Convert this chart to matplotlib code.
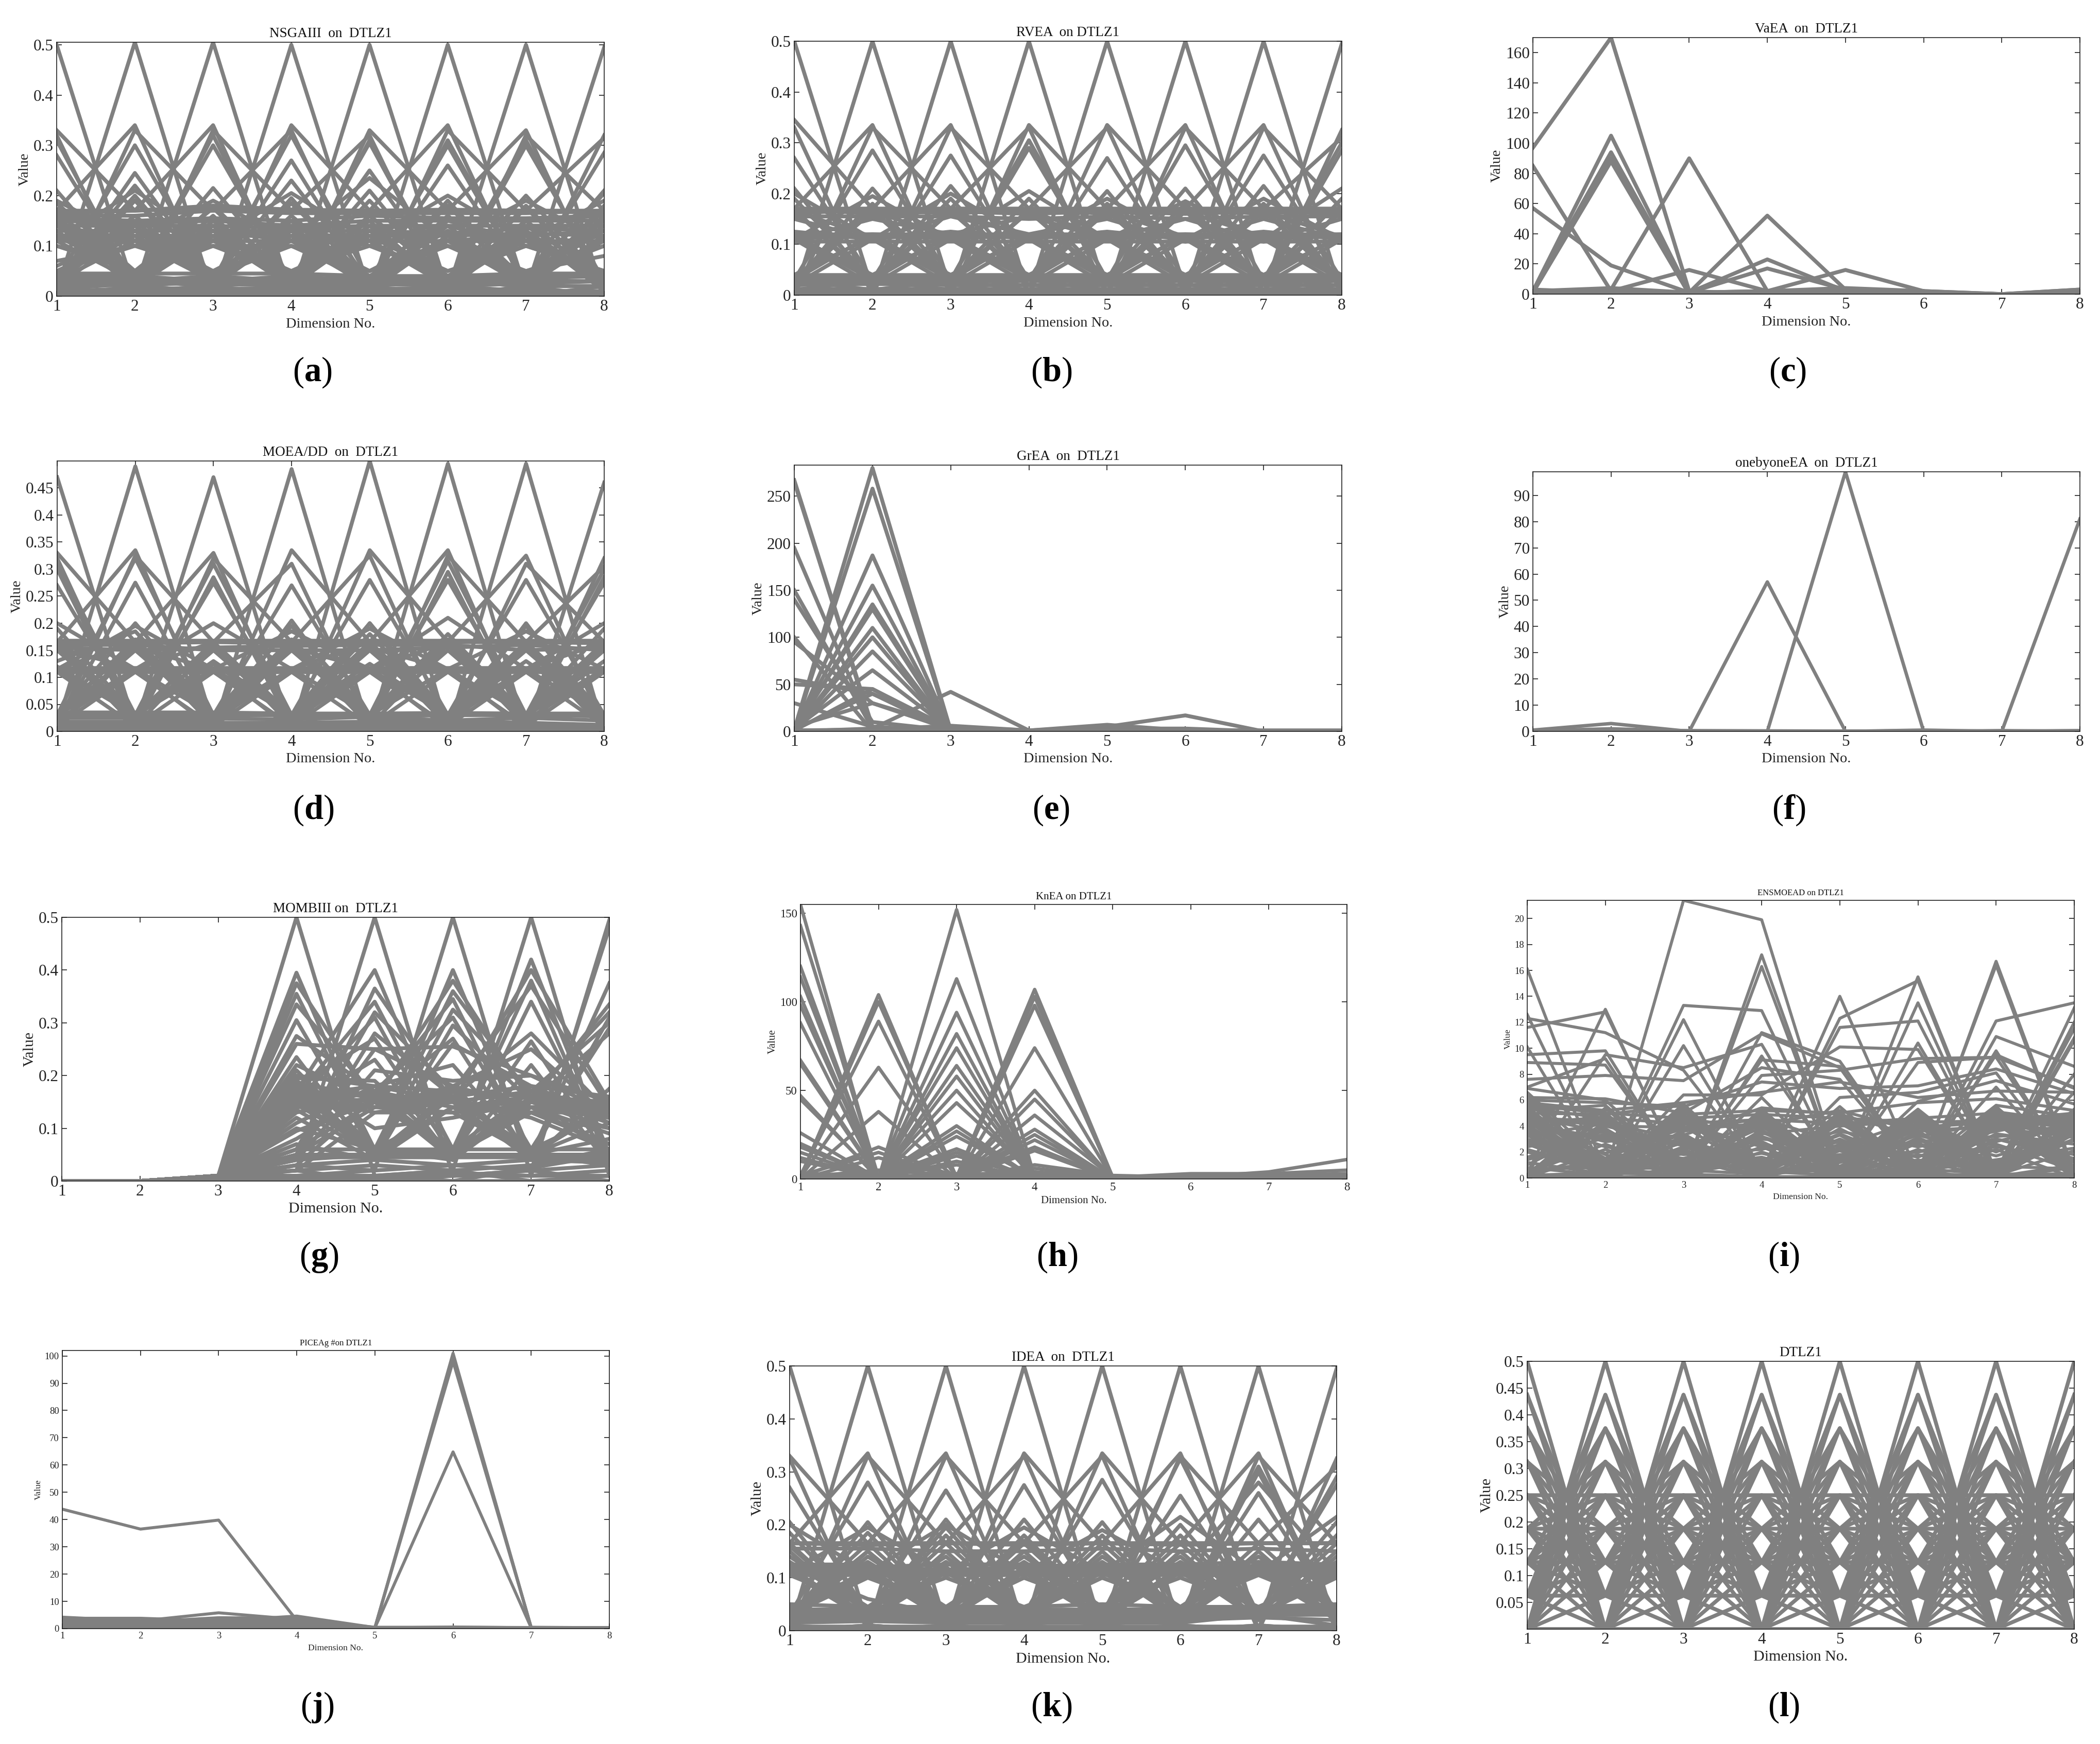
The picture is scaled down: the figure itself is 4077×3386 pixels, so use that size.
import matplotlib
matplotlib.use('Agg')
import matplotlib.pyplot as plt

#############################################################################################################
# Datos #####################################################################################################
#############################################################################################################
dims = [1, 2, 3, 4, 5, 6, 7, 8]

nsga3 = [
 [.5,.01,.02,0,.01,0,.02,0],[.01,.505,0,.01,.02,0,0,.01],[0,.01,.505,0,0,.02,.01,0],[.02,0,0,.5,.01,0,0,.02],
 [0,.02,.01,0,.5,.01,0,0],[.01,0,0,.02,0,.5,.01,0],[0,.01,.02,0,0,.01,.5,0],[.02,0,0,.01,0,0,.01,.495],
 [.33,.17,.34,0,.33,.17,.33,0],[.17,.34,0,.34,.17,.34,.01,.32],[.32,0,.33,.17,.32,0,.32,.17],[0,.33,.17,.33,0,.33,.17,.315],
 [.31,.02,.32,.01,.31,.03,.31,.02],[.03,.30,.03,.32,.03,.30,.03,.285],[.28,.03,.30,.03,.305,.02,.30,.03],[.02,.245,.03,.27,.02,.31,.03,.21],
 [.21,.03,.215,.03,.25,.03,.2,.03],[.03,.22,.03,.23,.03,.26,.03,.205],[.19,.11,.19,.11,.235,.11,.19,.11],[.11,.21,.11,.205,.11,.2,.11,.19],
 [.185,.05,.175,.03,.21,.02,.18,.02],[.03,.2,.02,.195,.02,.19,.02,.18],[.17,.03,.18,.03,.19,.03,.175,.03],[.02,.19,.03,.185,.03,.18,.03,.17],
 [.17,.17,.18,.172,.17,.17,.17,.17],[.165,.17,.175,.17,.17,.172,.17,.165],[.16,.16,.17,.165,.165,.165,.165,.17],[.155,.15,.155,.15,.16,.155,.155,.16],
 [.15,.145,.15,.14,.15,.15,.15,.15],[.14,.14,.14,.135,.14,.14,.14,.14],[.13,.13,.13,.13,.13,.125,.135,.13],[.12,.12,.12,.12,.12,.12,.125,.12],[.11,.11,.11,.11,.11,.11,.11,.11],
 [.16,.02,.15,.03,.14,.02,.15,.03],[.03,.15,.02,.16,.03,.14,.02,.16],[.15,.03,.16,.01,.16,.04,.13,.01],[.04,.16,.03,.14,.02,.16,.03,.14],
 [.14,.04,.13,.04,.15,.01,.14,.04],[.02,.13,.04,.15,.04,.13,.04,.13],[.13,.02,.12,.02,.13,.03,.12,.02],[.03,.14,.02,.13,.01,.12,.03,.15],
 [.12,.04,.14,.03,.12,.04,.11,.04],[.04,.12,.03,.12,.03,.11,.02,.12],[.11,.03,.11,.04,.11,.02,.13,.03],[.03,.11,.04,.11,.02,.12,.04,.11],
 [.10,.05,.10,.05,.10,.04,.10,.05],[.05,.10,.05,.10,.04,.10,.05,.10],[.12,.11,.03,.03,.13,.12,.02,.02],[.02,.03,.12,.13,.03,.02,.12,.13],
 [.13,.02,.03,.12,.11,.03,.02,.12],[.11,.12,.12,.02,.02,.11,.12,.03],[.16,.13,.04,.15,.03,.15,.11,.04],[.04,.15,.13,.03,.16,.03,.15,.16],
 [.15,.05,.13,.11,.05,.13,.03,.11],[.12,.04,.10,.04,.12,.05,.10,.05],[.05,.12,.04,.10,.05,.10,.04,.10],[.145,.10,.10,.10,.03,.03,.14,.14],
 [.155,.03,.03,.14,.10,.14,.10,.12],[.07,.10,.14,.03,.14,.10,.03,.05],[.06,.13,.05,.13,.05,.11,.05,.08],[.10,.05,.12,.05,.12,.05,.10,.05],
 [.05,.03,.04,.03,.04,.03,.04,.04],[.04,.04,.03,.04,.03,.04,.03,.03],[.045,.045,.045,.045,.04,.04,.045,.045],[.035,.035,.035,.035,.035,.035,.04,.04],
 [.03,.03,.03,.035,.03,.03,.03,.03],[.025,.02,.03,.025,.03,.025,.035,.04],[.02,.03,.02,.03,.02,.03,.02,.02],[.015,.025,.025,.02,.025,.02,.025,.03],
 [.01,.015,.015,.015,.015,.015,.01,.01],[.005,.01,.01,.01,.005,.01,.015,.005],[0,.005,.005,.005,.01,.005,.005,0],[0,0,.005,0,0,.005,0,.005],
]
rvea = [
 [.5,.01,0,0,.01,0,.01,0],[0,.5,.01,0,0,.01,0,0],[.01,0,.5,0,.01,0,0,.01],[0,.01,0,.5,0,0,.01,0],
 [0,0,.01,0,.5,.01,0,0],[.01,0,0,.01,0,.5,0,0],[0,.01,0,0,.01,0,.5,0],[0,0,.01,0,0,.01,0,.495],
 [.345,.17,.335,0,.335,.17,.335,0],[.17,.335,0,.335,.17,.335,0,.325],[.33,0,.33,.17,.33,0,.33,.17],[0,.33,.17,.33,0,.33,.17,.31],
 [.27,.03,.275,.03,.27,.03,.275,.03],[.03,.285,.03,.305,.03,.295,.03,.30],[.21,.02,.215,.03,.205,.02,.215,.02],[.02,.21,.03,.29,.03,.21,.02,.285],
 [.2,.11,.2,.11,.19,.11,.19,.11],[.11,.195,.11,.205,.11,.185,.11,.21],[.19,.03,.19,.03,.18,.03,.18,.03],[.03,.18,.03,.19,.03,.18,.03,.19],
 [.165,.165,.165,.165,.165,.165,.165,.165],[.16,.17,.16,.17,.16,.17,.16,.17],[.17,.16,.165,.16,.165,.16,.165,.16],[.17,.17,.17,.17,.17,.17,.17,.17],
 [.155,.155,.155,.15,.155,.15,.155,.155],[.12,.12,.12,.12,.12,.12,.12,.12],[.115,.115,.115,.115,.115,.115,.115,.115],
 [.11,.12,.11,.12,.11,.12,.11,.12],[.125,.11,.125,.11,.125,.11,.125,.11],[.105,.105,.105,.105,.105,.105,.105,.105],
 [.165,.03,.165,.03,.12,.03,.165,.03],[.03,.165,.03,.12,.03,.165,.03,.12],[.12,.03,.12,.03,.165,.03,.12,.03],[.03,.12,.03,.165,.03,.12,.03,.165],
 [.17,.02,.11,.02,.17,.02,.11,.02],[.02,.17,.02,.11,.02,.17,.02,.11],[.11,.02,.17,.02,.11,.02,.17,.02],[.02,.11,.02,.17,.02,.11,.02,.17],
 [.115,.04,.115,.04,.115,.04,.115,.04],[.04,.115,.04,.115,.04,.115,.04,.115],[.165,.115,.03,.165,.115,.03,.165,.115],[.03,.165,.115,.03,.165,.115,.03,.165],
 [.115,.03,.165,.115,.03,.165,.115,.03],[.15,.11,.155,.12,.15,.105,.15,.11],[.11,.15,.12,.155,.11,.15,.105,.15],
 [.035,.035,.035,.035,.035,.035,.035,.035],[.03,.03,.03,.03,.03,.03,.03,.03],[.04,.04,.04,.04,.04,.04,.04,.04],[.025,.03,.025,.03,.025,.03,.025,.03],
 [.02,.022,.02,.02,.02,.02,.02,.02],[.012,.012,.012,.012,.012,.012,.012,.012],[.005,.008,.005,.008,.005,.008,.005,.008],[0,.002,0,.002,0,.002,0,.002],
 [.03,.01,.03,.01,.03,.01,.03,.01],[.01,.03,.01,.03,.01,.03,.01,.03],
]
vaea = [
 [97,170,2,0,0,0,0,0],[85,2,1,0,0,0,0,1],[57,19,1,0,0,0,0,0],[2,105,1,0,0,0,0,0],[2,94,1,0,1,0,0,0],[1,90,0,0,0,0,0,1],
 [1,88,0,0,0,0,0,0],[0,3,90,2,0,0,0,0],[1,2,16,2,2,1,0,3],[0,1,1,52,3,1,0,1],[0,1,1,23,2,1,0,0],[1,0,1,17,3,0,0,0],
 [0,0,1,2,16,2,0,0],[2,4,1,2,4,2,0,3],[1,2,0,1,1,1,0,2],[3,1,1,0,0,0,0,1],
]
moeadd = [
 [.47,.01,0,.01,0,0,.01,0],[.01,.49,.01,0,0,.01,0,.01],[0,.01,.47,0,.01,0,0,0],[.01,0,0,.485,0,.01,0,.01],
 [0,.01,0,0,.5,0,.01,0],[.01,0,.01,.01,0,.495,0,0],[0,0,0,.01,.01,0,.495,0],[.01,.01,.01,0,0,0,0,.46],
 [.33,.165,.33,.01,.335,.165,.325,.01],[.165,.335,.01,.335,.165,.335,.01,.32],[.32,.01,.32,.165,.325,.01,.31,.165],[.01,.325,.165,.31,.01,.325,.165,.305],
 [.31,.03,.31,.03,.28,.03,.28,.03],[.03,.32,.03,.27,.03,.315,.03,.30],[.30,.01,.285,.01,.2,.01,.2,.01],[.01,.275,.01,.205,.01,.295,.01,.285],
 [.27,.03,.275,.03,.2,.03,.195,.03],[.03,.2,.03,.195,.03,.28,.03,.275],[.2,.115,.2,.115,.19,.115,.185,.115],[.115,.195,.115,.185,.115,.21,.115,.2],
 [.19,.03,.125,.03,.18,.03,.16,.03],[.13,.185,.03,.16,.03,.18,.03,.19],[.12,.03,.13,.03,.125,.03,.13,.03],[.03,.17,.03,.17,.03,.17,.03,.13],
 [.168,.168,.168,.168,.168,.168,.168,.168],[.165,.163,.165,.163,.165,.165,.165,.163],[.155,.15,.155,.158,.16,.16,.15,.155],[.16,.16,.15,.15,.15,.155,.16,.15],
 [.117,.117,.117,.117,.117,.117,.117,.117],[.115,.112,.115,.112,.115,.112,.115,.112],[.11,.11,.11,.11,.11,.11,.11,.11],
 [.165,.03,.165,.03,.115,.03,.165,.03],[.03,.165,.03,.115,.03,.165,.03,.115],[.115,.03,.115,.03,.165,.03,.115,.03],[.03,.115,.03,.165,.03,.115,.03,.165],
 [.16,.01,.11,.01,.16,.01,.11,.01],[.01,.16,.01,.11,.01,.16,.01,.11],[.11,.01,.16,.01,.11,.01,.16,.01],[.01,.11,.01,.16,.01,.11,.01,.16],
 [.15,.025,.15,.025,.15,.025,.15,.025],[.025,.15,.025,.15,.025,.15,.025,.15],[.165,.02,.02,.165,.02,.02,.165,.02],[.02,.115,.165,.02,.115,.165,.02,.115],
 [.115,.165,.02,.115,.165,.02,.115,.165],[.155,.115,.005,.155,.115,.005,.155,.005],[.005,.155,.115,.005,.155,.115,.005,.155],
 [.035,.035,.035,.033,.033,.034,.033,.033],[.03,.03,.03,.03,.028,.03,.03,.028],[.025,.025,.024,.022,.027,.02,.025,.02],
 [.018,.018,.016,.016,.018,.018,.016,.012],[.012,.012,.011,.012,.012,.012,.012,.01],[.008,.008,.008,.008,.008,.008,.008,.008],[.004,.005,.004,.005,.004,.005,.004,.005],[.001,.001,.001,.001,.001,.001,.001,.001],
]
grea = [
 [267,5,0,0,0,0,0,0],[265,2,1,0,0,0,0,0],[195,1,0,0,0,0,0,0],[150,3,0,0,0,0,0,0],[140,10,1,0,0,0,0,0],[100,0,0,0,0,0,0,0],[95,30,2,0,0,0,0,0],
 [55,40,2,0,1,0,0,0],[50,45,3,0,0,0,0,0],[30,5,0,0,0,0,0,0],[2,280,1,0,0,0,0,0],[1,258,1,0,0,0,0,0],[0,187,0,0,0,0,0,0],[1,155,0,0,0,0,0,0],
 [0,135,2,0,0,0,0,0],[2,130,1,0,0,0,0,0],[0,110,0,0,0,0,0,0],[1,100,0,0,0,0,0,0],[0,85,1,0,0,0,0,0],[3,65,2,0,0,0,0,0],[1,45,1,0,0,0,0,0],
 [2,40,0,0,0,0,0,0],[5,30,5,1,0,0,0,0],[0,3,42,1,0,0,0,0],[1,2,6,1,7,1,0,0],[0,1,2,1,5,17,0,0],[0,0,1,0,3,3,0,0],[1,1,1,1,1,1,1,1],
]
onebyone = [
 [.5,3,0,0,0,.3,0,.2],[.2,1,.1,0,0,0,.3,0],[0,0,0,57,0,.5,0,0],[0,0,0,0,99,0,0,0],[0,0,0,0,0,0,0,81],[.4,.5,.3,.2,.1,.2,.1,.3],
]
mombi3 = [
 [0,0,.01,.5,.01,.02,0,.01],[0,0,.01,.02,.5,.01,.02,0],[0,0,.01,.01,.02,.5,.01,.02],[0,0,.01,0,.01,.02,.5,.01],[0,0,.01,.02,0,.01,.01,.495],[0,0,.01,.01,0,.01,.02,.48],
 [0,0,.01,.395,.05,.40,.05,.375],[0,0,.01,.375,.15,.38,.15,.335],[0,0,.01,.355,.06,.36,.16,.32],[0,0,.01,.335,.16,.345,.05,.31],[0,0,.01,.305,.05,.325,.17,.30],
 [0,0,.01,.275,.17,.31,.06,.29],[0,0,.01,.26,.25,.255,.2,.15],[0,0,.01,.235,.04,.295,.15,.28],[0,0,.01,.22,.15,.27,.04,.175],[0,0,.01,.21,.06,.26,.18,.16],[0,0,.01,.2,.18,.22,.05,.15],
 [0,0,.01,.17,.40,.05,.42,.05],[0,0,.01,.05,.365,.15,.40,.15],[0,0,.01,.16,.34,.06,.38,.04],[0,0,.01,.06,.32,.17,.37,.14],[0,0,.01,.15,.31,.04,.34,.05],
 [0,0,.01,.04,.28,.16,.28,.13],[0,0,.01,.18,.27,.05,.265,.04],[0,0,.01,.05,.25,.18,.25,.12],[0,0,.01,.14,.23,.04,.22,.03],[0,0,.01,.04,.21,.19,.2,.13],
 [0,0,.01,.195,.19,.05,.16,.14],[0,0,.01,.19,.05,.17,.05,.14],[0,0,.01,.185,.16,.15,.17,.13],[0,0,.01,.18,.05,.05,.16,.12],[0,0,.01,.175,.14,.16,.05,.11],
 [0,0,.01,.17,.05,.14,.15,.10],[0,0,.01,.165,.15,.05,.14,.09],[0,0,.01,.16,.13,.13,.05,.08],[0,0,.01,.155,.05,.06,.13,.07],[0,0,.01,.15,.14,.15,.12,.06],
 [0,0,.01,.145,.06,.14,.05,.05],[0,0,.01,.14,.17,.05,.14,.12],[0,0,.01,.135,.05,.16,.06,.13],[0,0,.01,.13,.16,.06,.17,.14],[0,0,.01,.12,.04,.14,.16,.05],
 [0,0,.01,.11,.18,.15,.04,.04],[0,0,.01,.10,.06,.04,.18,.11],[0,0,.01,.095,.15,.17,.05,.03],[0,0,.01,.08,.17,.04,.15,.12],[0,0,.01,.07,.04,.18,.04,.05],
 [0,0,.01,.06,.15,.05,.13,.1],[0,0,.01,.05,.14,.13,.14,.06],[0,0,.01,.04,.05,.16,.05,.14],[0,0,.01,.03,.16,.04,.16,.15],[0,0,.01,.02,.13,.15,.13,.07],
 [0,0,.01,.17,.06,.05,.05,.05],[0,0,.01,.05,.05,.05,.05,.04],[0,0,.01,.06,.06,.06,.06,.06],[0,0,.01,.045,.045,.045,.045,.045],[0,0,.005,.03,.04,.03,.04,.035],
 [0,0,.005,.02,.03,.02,.03,.06],[0,0,.002,.03,.02,.03,.02,.03],[0,0,.002,.01,.01,0,.025,.05],[0,0,.002,.005,.005,.015,.01,.01],[0,0,.002,0,0,0,0,0],
 [0,0,.01,.15,.17,.14,.13,.13],[0,0,.01,.19,.1,.12,.15,.14],[0,0,.01,.14,.14,.18,.14,.15],[0,0,.01,.17,.16,.16,.18,.12],[0,0,.01,.16,.18,.17,.16,.11],
]
knea = [
 [155,0,1,0,1,0,0,0],[143,1,0,2,0,0,0,0],[120,0,2,0,1,0,0,0],[114,1,1,0,0,0,0,0],[103,0,0,1,0,0,0,0],[98,1,1,0,0,0,1,0],[88,0,0,2,0,0,0,0],
 [67,1,0,0,0,0,0,1],[65,0,2,0,0,0,0,0],[47,0,1,1,1,0,0,0],[45,1,0,0,0,0,0,0],[26,0,1,0,0,0,0,0],[20,0,0,1,0,0,0,0],[18,1,0,0,0,0,0,0],
 [15,0,1,0,0,0,0,0],[12,0,0,0,1,0,0,0],[10,1,0,1,0,0,0,0],[1,104,0,1,0,0,0,0],[0,100,1,0,0,0,0,0],[2,89,0,0,0,0,0,0],[1,63,1,1,0,0,0,0],
 [0,38,0,0,0,1,0,0],[1,18,1,0,0,0,0,0],[2,15,0,1,0,0,0,0],[0,12,1,0,0,0,0,0],[1,5,2,1,0,0,1,0],[0,0,152,1,0,0,0,0],[1,1,113,0,0,0,0,0],
 [0,0,94,1,1,0,0,0],[1,0,82,0,0,0,0,0],[0,1,74,0,0,0,0,0],[0,0,64,1,0,0,0,0],[1,0,58,0,0,1,0,0],[0,1,50,0,0,0,0,0],[0,0,43,2,0,0,0,0],
 [0,1,30,0,0,0,0,0],[1,0,27,0,0,0,0,0],[0,0,24,1,0,0,0,0],[0,1,17,0,0,0,0,0],[1,0,15,0,0,0,0,0],[0,0,13,1,0,0,1,0],[0,0,10,0,0,0,0,0],
 [1,1,8,0,0,0,0,0],[0,0,1,107,1,0,0,0],[1,0,0,103,0,0,0,0],[0,1,1,98,1,1,0,0],[0,0,0,74,0,0,0,0],[1,0,1,50,0,0,0,0],[0,1,0,45,0,0,0,0],
 [0,0,0,36,1,0,0,0],[1,0,1,28,0,0,0,0],[0,0,0,25,0,1,0,0],[0,1,0,22,0,0,0,0],[0,0,1,18,0,0,0,0],[1,0,0,16,0,0,0,0],[0,0,0,8,2,1,4,11],
 [0,0,1,6,1,3,3,5],[1,1,2,4,1,2,2,3],[2,1,3,3,1,1,1,2],[3,2,1,2,0,1,1,1],
]
ensmoead = [
 [.1,.3,21.4,19.9,.5,.2,.3,.2],[16.1,.4,.2,17.2,.3,.1,16.7,.5],[.3,13,.1,16.3,.2,15.5,.4,13.1],[12.6,.2,12.2,.4,14,.3,16.4,.2],
 [11.6,12.8,.3,.1,12.3,15.2,.2,12],[12.3,11.2,8.3,.5,.2,13.5,.3,11.5],[.2,.4,13.3,12.9,.3,.2,12.1,13.5],[10.1,.1,10.2,.3,11.6,12.1,.4,10.8],
 [9.5,9.8,.2,11.2,9,.4,.1,10.6],[8.9,8.7,.4,9.1,8.6,.2,10.9,8.6],[.3,9.5,8.5,10.3,.1,10.4,.2,8],[7.6,7.9,7.5,11.1,8.5,.1,9.8,.3],
 [7,9.2,.1,9.4,.4,8.9,9.3,.4],[6.9,6,.5,7.9,8.3,9.2,9.3,7],[6.5,.3,6.4,6.4,10.1,9.9,.3,6.6],[6.2,6.1,5,8.5,7.6,.5,9.5,6.9],
 [6,5.8,5.5,7.4,6.9,7.1,8.4,6.5],[5.8,5.2,5.8,6.6,7.4,6.2,6.7,6.6],[5.5,.5,5.3,.2,6.2,6.6,8.1,.2],[5.2,5.6,.3,6.2,.2,5.9,7.5,5.7],
 [5,4.9,5.6,.4,5.5,.3,7,.1],[4.8,.2,4.9,5.2,5,5.8,6.1,5.2],[4.6,4.4,.4,5,.6,5.3,.5,4.9],[4.4,.8,4.6,.7,4.8,.9,5.6,4.7],
 [4.2,4.7,.6,4.6,.8,4.7,.7,4.5],[4,.3,4.3,1.2,4.5,.5,5.1,4.3],[3.8,1.5,4,.3,4.2,1.2,4.7,4.1],[3.5,.2,3.7,4.2,.3,4.3,1,3.9],
 [3.2,4.2,1.2,3.9,1.5,3.9,4.3,.5],[2.8,.6,3.2,.5,3.8,.8,4,3.7],[2.4,3.6,.5,3.6,.4,3.6,.4,3.5],[2,.4,2.8,.2,3.4,.2,3.8,3.2],
 [1.4,3.1,.2,3.2,.3,3.1,.6,3],[.8,.2,2.4,.6,3,.4,3.4,2.6],[.4,2.6,.4,2.8,.1,2.7,.2,2.1],[.2,.1,1.9,.1,2.6,.1,3,1.8],
 [0,2.2,.1,2.4,0,2.2,.1,1],[.1,0,1.5,0,2.1,0,2.6,.6],[4.5,1.8,0,2,.1,1.8,.1,.2],[4.3,1.2,3.4,0,1.6,.1,2.2,0],
 [4.7,.7,.8,1.6,0,1.4,0,0],[5.1,0,3,.1,1.2,3.3,1.7,3.5],[4.1,.3,4.4,1,3.3,0,4.5,1.2],[3.9,4.5,0,4.4,.8,3,0,.8],
 [3.3,0,2.2,0,4.4,1,1.2,3.3],[.6,1,0,3.4,4,4.4,0,.4],[1,4,2.6,4,0,3.5,.8,4.4],[1.6,3.4,1,3,2.4,4.5,2,4.6],
 [.05,.05,.05,.05,.05,.05,.05,.05],[.15,.1,.1,.1,.1,.1,.15,.1],[2.6,.5,2,1.1,1.8,2,3,1.5],[.3,1.4,.3,1.4,.3,.7,.3,.3],
 [4.6,.1,5.4,.2,4.9,.1,5.3,.1],[4.9,.4,5.7,0,5.1,.2,5.5,.3],[.1,5,.2,5.1,.1,5,.1,5],[.2,5.4,.1,4.8,0,4.6,0,5.3],
 [4.4,.3,4.8,.4,4.7,0,4.6,.2],[5.3,.6,5.1,.1,4.3,.4,4.9,.4],[.4,4.3,.1,4.7,.2,4.2,.3,4.7],[0,4.8,0,5.3,.1,5.2,.2,4.2],
 [6.3,.1,4.6,0,4.9,.6,4.4,0],[3.7,.2,5.5,.1,4.6,.1,4.2,.1],[.1,3.8,.3,4.3,.4,4.8,.2,3.8],[.3,3.3,.1,3.7,.2,4,0,3.4],
 [4.5,4.2,3,1,3.4,1,4.8,4.6],[4.8,3.5,2.5,1.4,2.8,1.6,4.2,4.2],[4.2,3,1.8,2.2,3.6,2.4,3.6,4.8],[4.4,2.4,1.5,3.2,1.2,2.8,3.2,3.6],
 [3.6,1.9,3.8,2.6,.9,3.8,4.6,3.8],[5,1.5,4.2,2.4,2.2,.7,4.4,5],[3,.9,4.7,3.5,1.4,2,3.8,4.4],[2.2,.5,3.6,4.6,2.7,.6,2.8,4.3],
 [5.6,5,4.6,4.9,4.6,4.3,4.4,4.4],[5.4,4.6,4.2,4.5,4.2,4.6,5,4],[4.7,4,3.9,4.1,5.2,3.6,4,4.9],[4.3,2.8,3.3,5.4,4.9,3.2,4.3,3.1],
 [6.6,1.1,2.7,.9,1.7,2.6,.4,2.9],[5.9,.6,.9,1.9,.6,.5,1.4,2.3],[.7,.8,1.3,.6,2.3,1.7,2.4,1.4],[1.2,.3,.6,.3,.7,.3,.9,.7],
]
piceag = [
 [43.8,36.5,39.8,3,.3,.2,.3,.2],[.5,.6,.4,.5,.3,101,.4,.3],[.3,.4,.3,.3,.2,100,.3,.2],[.4,.3,.5,.4,.4,98,.5,.3],[.2,.3,.3,.2,.3,64.8,.3,.2],
 [4.2,2.8,5.8,3.4,.5,.5,.4,.3],[3.8,3.8,2.8,4.6,.4,.4,.3,.4],[3.2,2.4,4,3.8,.3,.3,.4,.4],[2.6,2.2,3.2,3.4,.2,.6,.3,.3],[2,2,2.8,3,.3,.3,.2,.2],
 [1.5,1.2,2.2,2.4,.2,.2,.3,.3],[.7,1,1.4,1.6,.2,.2,.2,.2],[.3,.6,1,1,.1,.1,.1,.1],[.1,.2,.5,.5,.1,.1,.1,.1],
]
idea = [
 [.5,.01,0,.01,0,0,.01,0],[0,.5,.01,0,.01,0,0,.01],[.01,0,.5,0,0,.01,0,0],[0,.01,0,.5,0,0,.01,0],
 [0,0,.01,0,.5,0,0,.01],[.01,0,0,.01,0,.5,0,0],[0,.01,0,0,.01,0,.5,0],[0,0,.01,0,0,.01,0,.495],
 [.33,.165,.335,0,.335,.165,.335,0],[.165,.335,0,.335,.165,.335,0,.325],[.325,0,.33,.165,.33,0,.33,.165],[0,.33,.165,.33,0,.33,.165,.31],
 [.27,.03,.265,.03,.285,.03,.31,.03],[.03,.28,.03,.275,.03,.325,.03,.29],[.205,.02,.21,.03,.205,.02,.30,.02],[.02,.205,.03,.21,.03,.255,.03,.275],
 [.2,.11,.2,.11,.19,.11,.28,.11],[.11,.195,.11,.195,.11,.215,.11,.215],[.185,.03,.195,.03,.18,.03,.26,.03],[.03,.185,.03,.18,.03,.2,.03,.205],
 [.16,.03,.18,.03,.165,.03,.21,.03],[.03,.15,.03,.17,.03,.18,.03,.18],[.165,.165,.165,.165,.165,.165,.165,.165],[.165,.162,.165,.162,.165,.162,.165,.165],
 [.155,.155,.15,.15,.155,.15,.155,.15],[.125,.12,.125,.125,.12,.125,.13,.125],[.12,.12,.115,.12,.115,.12,.12,.12],[.115,.115,.115,.11,.115,.115,.115,.115],[.11,.11,.11,.11,.11,.11,.11,.11],[.105,.105,.105,.105,.105,.105,.105,.105],
 [.165,.03,.165,.03,.11,.03,.165,.03],[.03,.165,.03,.11,.03,.165,.03,.11],[.11,.03,.11,.03,.165,.03,.11,.03],[.03,.11,.03,.165,.03,.11,.03,.165],
 [.15,.02,.12,.02,.15,.02,.12,.02],[.02,.15,.02,.12,.02,.15,.02,.12],[.12,.02,.15,.02,.12,.02,.15,.02],[.02,.12,.02,.15,.02,.12,.02,.15],
 [.13,.04,.13,.04,.13,.04,.13,.04],[.04,.13,.04,.13,.04,.13,.04,.13],[.105,.045,.1,.045,.1,.045,.105,.045],[.045,.105,.045,.1,.045,.1,.045,.105],
 [.125,.125,.04,.04,.125,.125,.04,.04],[.04,.04,.125,.125,.04,.04,.125,.125],[.115,.03,.03,.115,.115,.03,.03,.115],[.03,.115,.115,.03,.03,.115,.115,.03],
 [.11,.02,.11,.04,.11,.045,.11,.02],[.045,.11,.02,.11,.02,.11,.045,.11],[.14,.045,.14,.02,.14,.045,.14,.045],[.02,.14,.045,.14,.045,.14,.02,.14],
 [.12,.06,.03,.1,.045,.03,.12,.045],[.03,.1,.045,.03,.1,.045,.03,.1],
 [.05,.045,.045,.045,.05,.045,.045,.05],[.04,.04,.04,.04,.04,.04,.045,.04],[.035,.035,.035,.035,.035,.035,.04,.035],[.03,.03,.03,.03,.03,.03,.035,.03],
 [.025,.025,.025,.025,.025,.025,.03,.03],[.02,.02,.02,.02,.02,.02,.025,.02],[.015,.018,.015,.015,.015,.015,.03,.01],[.008,.008,.008,.008,.008,.008,.008,.008],[.003,.003,.003,.003,.003,.003,.003,.003],[0,0,0,0,0,0,0,0],
]
dtlz1 = [
 [.5,0,0,0,0,0,0,0],[0,.5,0,0,0,0,0,0],[0,0,.5,0,0,0,0,0],[0,0,0,.5,0,0,0,0],[0,0,0,0,.5,0,0,0],[0,0,0,0,0,.5,0,0],[0,0,0,0,0,0,.5,0],[0,0,0,0,0,0,0,.5],
 [.4375,.0625,.4375,.0625,.4375,.0625,.4375,.0625],[.0625,.4375,.0625,.4375,.0625,.4375,.0625,.4375],[.4375,0,.4375,0,.4375,0,.4375,0],[0,.4375,0,.4375,0,.4375,0,.4375],
 [.375,.125,.375,.125,.375,.125,.375,.125],[.125,.375,.125,.375,.125,.375,.125,.375],[.375,.0625,.375,.0625,.375,.0625,.375,.0625],[.0625,.375,.0625,.375,.0625,.375,.0625,.375],[.375,0,.375,0,.375,0,.375,0],[0,.375,0,.375,0,.375,0,.375],
 [.3125,.1875,.3125,.1875,.3125,.1875,.3125,.1875],[.1875,.3125,.1875,.3125,.1875,.3125,.1875,.3125],[.3125,.125,.3125,.125,.3125,.125,.3125,.125],[.125,.3125,.125,.3125,.125,.3125,.125,.3125],
 [.3125,.0625,.3125,.0625,.3125,.0625,.3125,.0625],[.0625,.3125,.0625,.3125,.0625,.3125,.0625,.3125],[.3125,0,.3125,0,.3125,0,.3125,0],[0,.3125,0,.3125,0,.3125,0,.3125],
 [.25,.25,.25,.25,.25,.25,.25,.25],[.25,0,.25,0,.25,0,.25,0],[0,.25,0,.25,0,.25,0,.25],[.25,.1875,.25,.1875,.25,.1875,.25,.1875],[.1875,.25,.1875,.25,.1875,.25,.1875,.25],[.25,.125,.25,.125,.25,.125,.25,.125],[.125,.25,.125,.25,.125,.25,.125,.25],
 [.25,.0625,.25,.0625,.25,.0625,.25,.0625],[.0625,.25,.0625,.25,.0625,.25,.0625,.25],
 [.1875,.1875,.1875,.1875,.1875,.1875,.1875,.1875],[.1875,.125,.1875,.125,.1875,.125,.1875,.125],[.125,.1875,.125,.1875,.125,.1875,.125,.1875],[.1875,.0625,.1875,.0625,.1875,.0625,.1875,.0625],[.0625,.1875,.0625,.1875,.0625,.1875,.0625,.1875],
 [.1875,0,.1875,0,.1875,0,.1875,0],[0,.1875,0,.1875,0,.1875,0,.1875],[.125,.125,.125,.125,.125,.125,.125,.125],[.125,.0625,.125,.0625,.125,.0625,.125,.0625],[.0625,.125,.0625,.125,.0625,.125,.0625,.125],
 [.125,0,.125,0,.125,0,.125,0],[0,.125,0,.125,0,.125,0,.125],[.0625,.0625,.0625,.0625,.0625,.0625,.0625,.0625],[.0625,0,.0625,0,.0625,0,.0625,0],[0,.0625,0,.0625,0,.0625,0,.0625],[0,0,0,0,0,0,0,0],
]

titulos = ['NSGAIII  on  DTLZ1', 'RVEA  on DTLZ1', 'VaEA  on  DTLZ1', 'MOEA/DD  on  DTLZ1', 'GrEA  on  DTLZ1', 'onebyoneEA  on  DTLZ1',
           'MOMBIII on  DTLZ1', 'KnEA on DTLZ1', 'ENSMOEAD on DTLZ1', 'PICEAg #on DTLZ1', 'IDEA  on  DTLZ1', 'DTLZ1']
letras = ['a', 'b', 'c', 'd', 'e', 'f', 'g', 'h', 'i', 'j', 'k', 'l']
series = [nsga3, rvea, vaea, moeadd, grea, onebyone, mombi3, knea, ensmoead, piceag, idea, dtlz1]
ymaxs = [.505, .5, 170, .5, 283, 99, .5, 155, 21.4, 102, .5, .5]
ticks_y = [[0, .1, .2, .3, .4, .5], [0, .1, .2, .3, .4, .5], [0, 20, 40, 60, 80, 100, 120, 140, 160],
           [0, .05, .1, .15, .2, .25, .3, .35, .4, .45], [0, 50, 100, 150, 200, 250], [0, 10, 20, 30, 40, 50, 60, 70, 80, 90],
           [0, .1, .2, .3, .4, .5], [0, 50, 100, 150], [0, 2, 4, 6, 8, 10, 12, 14, 16, 18, 20],
           [0, 10, 20, 30, 40, 50, 60, 70, 80, 90, 100], [0, .1, .2, .3, .4, .5],
           [.05, .1, .15, .2, .25, .3, .35, .4, .45, .5]]

# cajas de los ejes en pixeles de la imagen: x0, x1, y arriba, y abajo
cajas = [(110, 1173, 82, 575), (1542, 2605, 80, 573), (2976, 4038, 73, 571),
         (111, 1173, 895, 1420), (1542, 2605, 903, 1420), (2976, 4038, 916, 1420),
         (120, 1183, 1781, 2293), (1554, 2615, 1756, 2289), (2965, 4027, 1748, 2287),
         (121, 1183, 2622, 3162), (1533, 2595, 2652, 3166), (2965, 4027, 2643, 3163)]
# centro de las letras (a), (b)...
letra_xy = [(606, 723), (2041, 723), (3471, 723), (608, 1573), (2041, 1573), (3473, 1573),
            (619, 2441), (2052, 2441), (3463, 2441), (616, 3315), (2041, 3315), (3463, 3315)]
tam_ticks = [7.5, 7.5, 7.5, 7.5, 7.5, 7.5, 7.5, 5.5, 4.5, 4.5, 7.5, 7.5]
tam_titulo = [6.5, 6.5, 6.5, 6.5, 6.5, 6.5, 6.5, 5, 4, 4, 6.5, 6.5]
tam_label = [6.8, 6.8, 6.8, 6.8, 6.8, 6.8, 7.2, 5, 4.2, 4.2, 7.2, 7.2]
grosores = [1.8, 1.8, 1.8, 1.8, 1.8, 1.6, 1.8, 1.6, 1.4, 1.4, 1.8, 1.8]

#############################################################################################################
# Figura ####################################################################################################
#############################################################################################################
plt.rcParams['font.family'] = ['Liberation Serif']
plt.rcParams['mathtext.fontset'] = 'custom'
plt.rcParams['mathtext.bf'] = 'Liberation Serif:bold'
plt.rcParams['mathtext.rm'] = 'Liberation Serif'

W, H = 4077, 3386
fig = plt.figure(figsize=(W / 300, H / 300), dpi=300)

for i in range(12):
    x0, x1, yt, yb = cajas[i]
    ax = fig.add_axes([x0 / W, 1 - yb / H, (x1 - x0) / W, (yb - yt) / H])
    for fila in series[i]:
        ax.plot(dims, fila, color='#808080', lw=grosores[i])
    ax.set_xlim(1, 8)
    ax.set_ylim(0, ymaxs[i])
    ax.set_xticks(dims)
    ax.set_yticks(ticks_y[i])
    ax.set_yticklabels(['%g' % t for t in ticks_y[i]])
    ax.tick_params(direction='in', top=True, right=True, length=2.5, width=.4, labelsize=tam_ticks[i], pad=1.5, colors='#222222')
    for s in ax.spines.values():
        s.set_linewidth(.4)
        s.set_color('#222222')
    ax.set_title(titulos[i], fontsize=tam_titulo[i], pad=2.5, color='#111111')
    ax.set_xlabel('Dimension No.', fontsize=tam_label[i], labelpad=1.5, color='#222222')
    ax.set_ylabel('Value', fontsize=tam_label[i], labelpad=1, color='#222222')
    lx, ly = letra_xy[i]
    fig.text(lx / W, 1 - ly / H, '($\\mathbf{' + letras[i] + '}$)', fontsize=16, ha='center', va='center', color='black')

plt.savefig('out.png', dpi=300)
